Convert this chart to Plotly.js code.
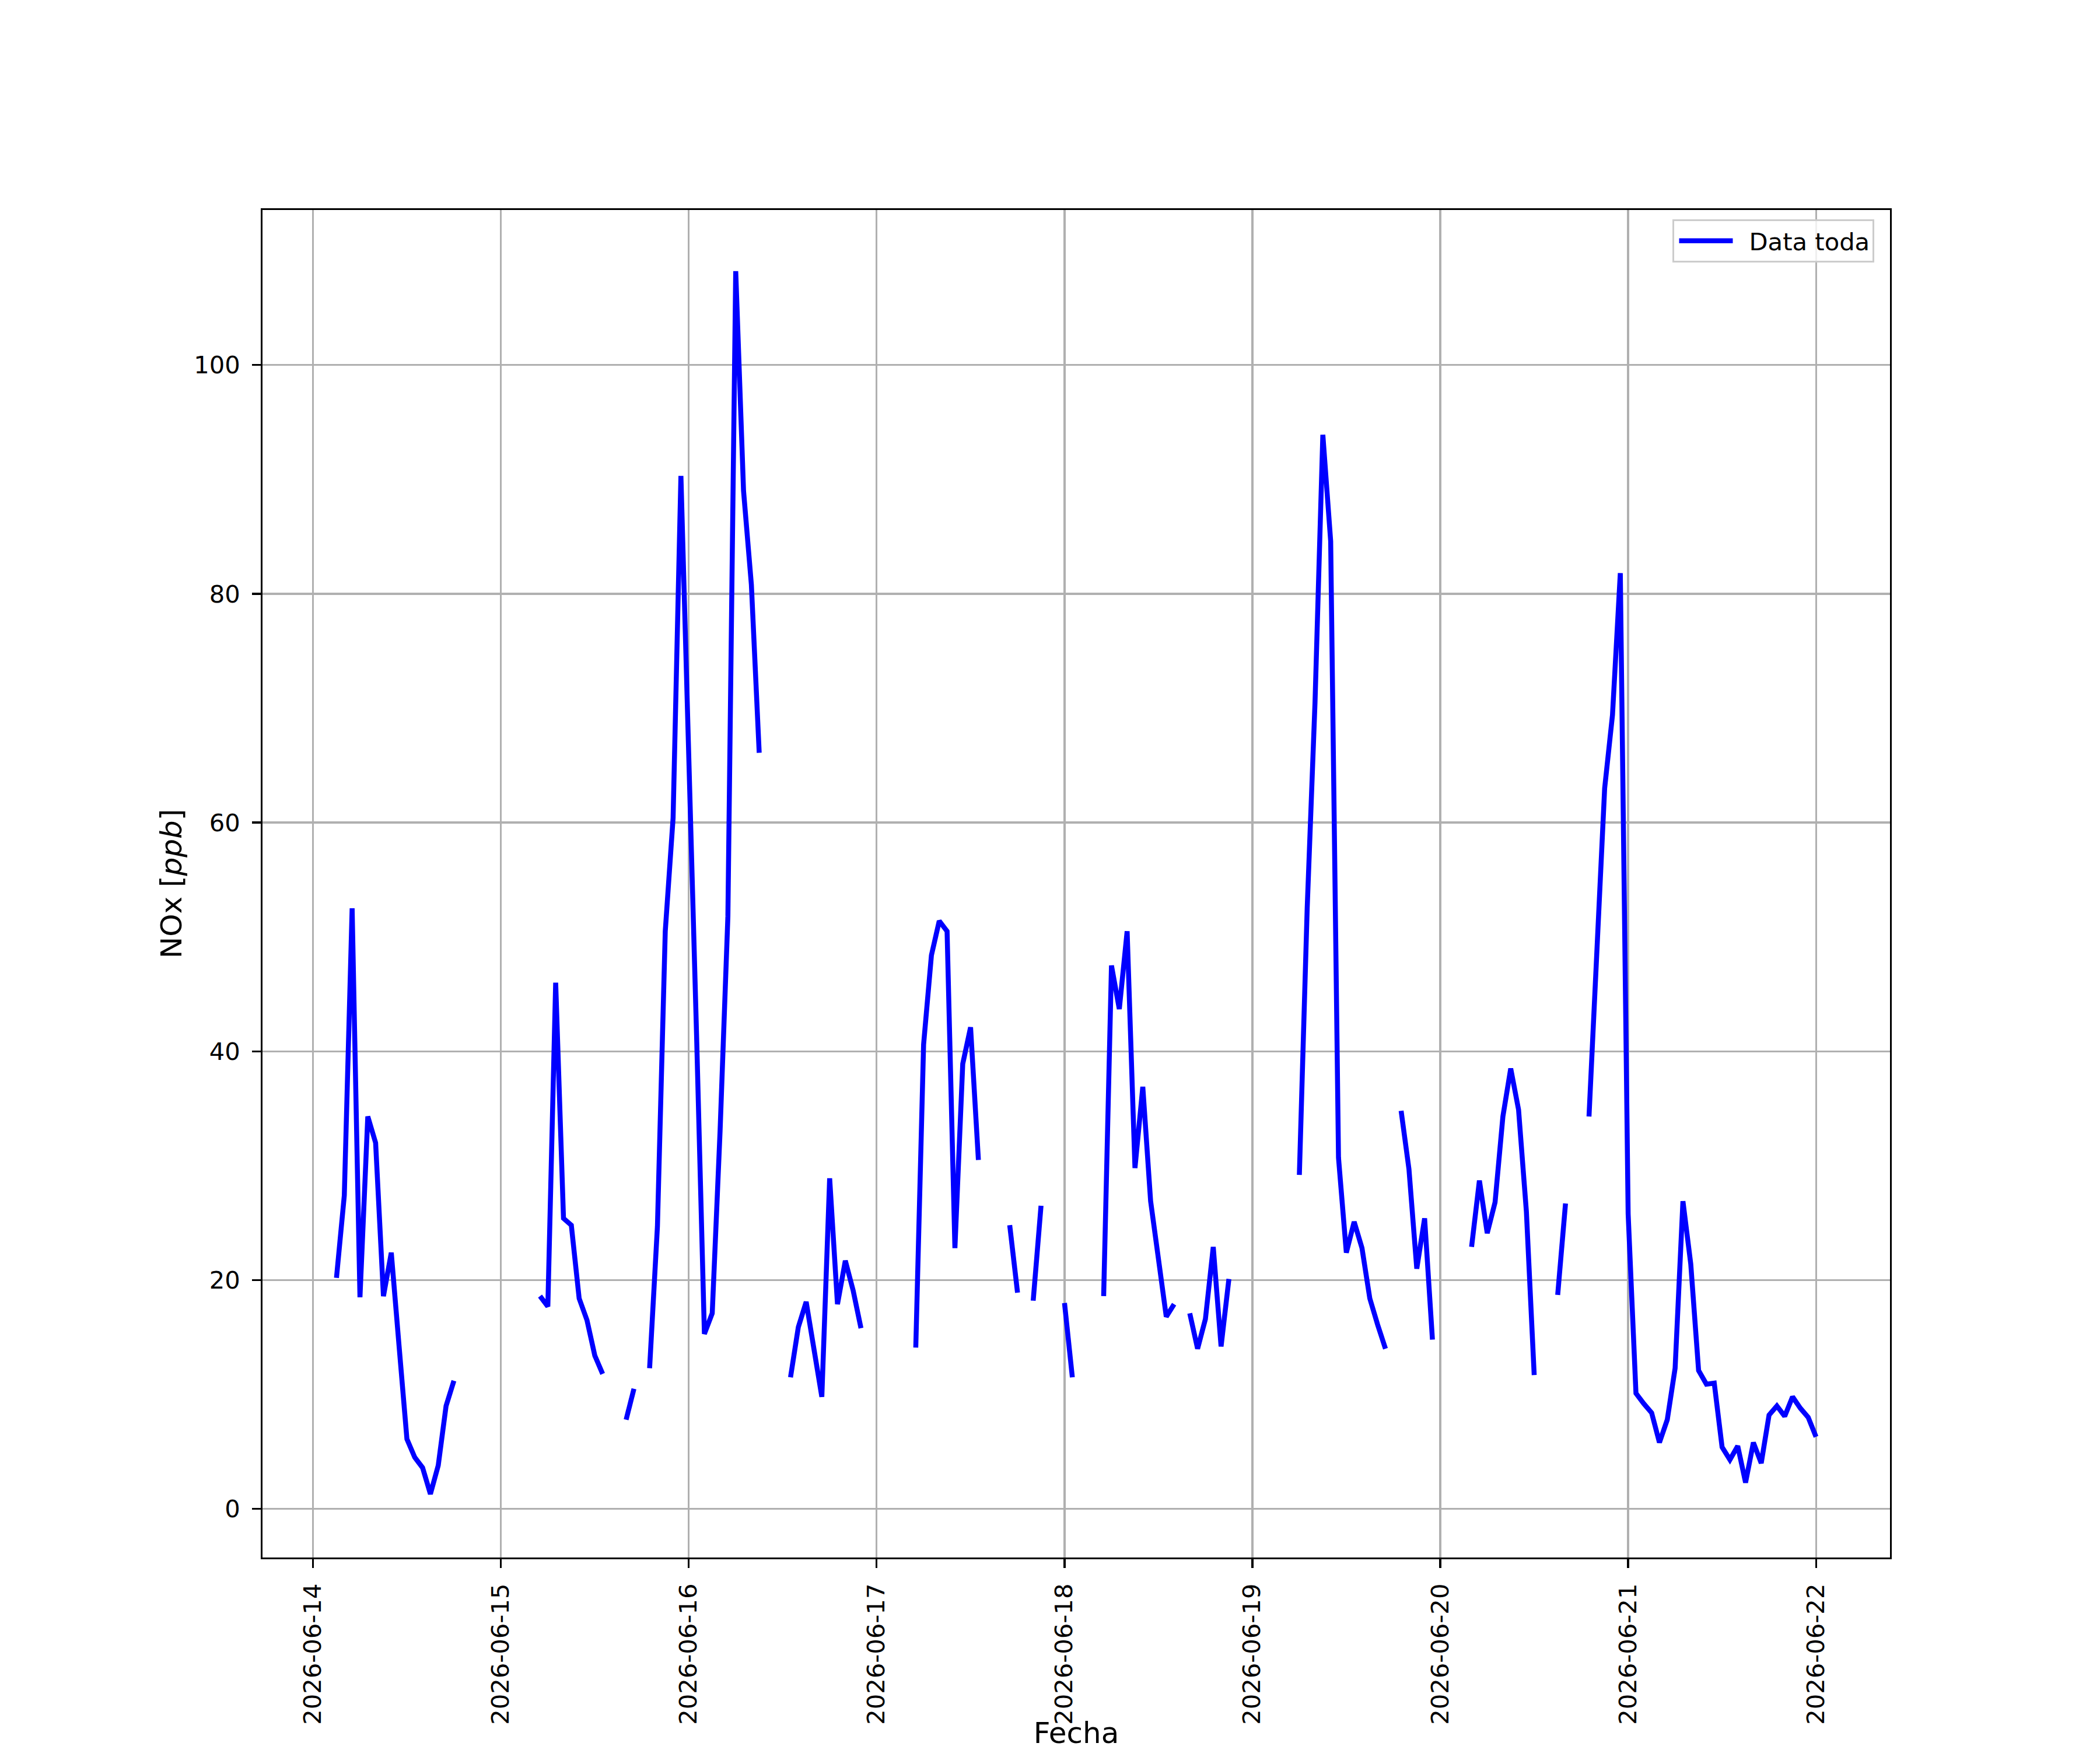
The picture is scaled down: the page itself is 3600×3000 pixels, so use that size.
<!DOCTYPE html>
<html>
<head>
<meta charset="utf-8">
<script src="https://cdn.plot.ly/plotly-3.0.1.min.js"></script>
<style>html,body{margin:0;padding:0;background:#fff;}</style>
</head>
<body>
<div id="chart" style="width:3600px;height:3000px;"></div>
<script>
// Hourly NOx readings (ppb) per day, index = hour of day; null = no data
const days = ['2026-06-14','2026-06-15','2026-06-16','2026-06-17','2026-06-18','2026-06-19','2026-06-20','2026-06-21','2026-06-22'];
const firstHour = 3; // first reading on 2026-06-14 at 03:00
const day14 = [20.2,27.4,52.5,18.5,34.3,32.0,18.6,22.4,14.2,6.1,4.5,3.6,1.3,3.8,9.0,11.2,null,null,null,null,null]; // hours 03..23
const day15 = [null,null,null,null,null,18.6,17.7,46.0,25.4,24.8,18.4,16.5,13.4,11.8,null,null,7.8,10.5,null,12.3,24.7,50.5,60.4,90.3];
const day16 = [67.5,41.4,15.3,17.1,33.0,51.8,108.2,89.0,80.8,66.1,null,null,null,11.5,15.9,18.1,13.9,9.8,28.9,17.9,21.7,19.1,15.8,null];
const day17 = [null,null,null,null,null,14.1,40.6,48.4,51.4,50.5,22.8,38.9,42.1,30.5,null,null,null,24.8,18.9,null,18.2,26.5,null,null];
const day18 = [18.0,11.5,null,null,null,18.6,47.5,43.7,50.5,29.8,36.9,26.9,22.0,16.8,17.9,null,17.1,14.0,16.6,22.9,14.2,20.1,null,null];
const day19 = [null,null,null,null,null,null,29.2,52.5,70.5,93.9,84.6,30.7,22.4,25.1,22.8,18.4,16.1,14.0,null,34.8,29.7,21.0,25.4,14.8];
const day20 = [null,null,null,null,22.9,28.7,24.1,26.8,34.3,38.5,34.9,26.0,11.7,null,null,18.7,26.7,null,null,34.3,49.0,63.0,69.4,81.8];
const day21 = [25.8,10.1,9.2,8.4,5.8,7.8,12.3,26.9,21.4,12.1,10.9,11.0,5.4,4.3,5.5,2.3,5.8,4.0,8.2,9.0,8.1,9.8,8.8,8.0];
const day22 = [6.3]; // hour 00

const seriesName = 'Data toda';
const xTitle = 'Fecha';
const yTitle = 'NOx [<i>ppb</i>]';

// assemble timestamps and values
const perDay = [day14, day15, day16, day17, day18, day19, day20, day21, day22];
const xs = [], ys = [];
perDay.forEach(function (vals, d) {
  const start = d === 0 ? firstHour : 0;
  vals.forEach(function (v, i) {
    const h = start + i;
    xs.push(days[d] + ' ' + String(h).padStart(2, '0') + ':00');
    ys.push(v);
  });
});

const trace = {
  x: xs, y: ys, type: 'scatter', mode: 'lines', name: seriesName,
  connectgaps: false,
  line: {color: '#0000ff', width: 8.5},
  showlegend: true
};

const layout = {
  width: 3600, height: 3000,
  margin: {l: 450, r: 360, t: 360, b: 330, autoexpand: false},
  paper_bgcolor: '#fff', plot_bgcolor: '#fff',
  font: {family: 'DejaVu Sans', size: 41.7, color: '#000'},
  showlegend: true,
  legend: {
    x: 0.9905, y: 0.993, xanchor: 'right', yanchor: 'top',
    bgcolor: 'rgba(255,255,255,0.8)', bordercolor: '#cccccc', borderwidth: 3,
    itemwidth: 118,
    font: {family: 'DejaVu Sans', size: 41.7, color: '#000'}
  },
  xaxis: {
    type: 'date',
    range: ['2026-06-13 17:33', '2026-06-22 09:27'],
    tick0: '2026-06-14', dtick: 86400000,
    tickformat: '%Y-%m-%d', tickangle: -90,
    ticks: 'outside', ticklen: 14.6, tickwidth: 3.3, tickcolor: '#000',
    ticklabelstandoff: 10,
    showgrid: true, gridcolor: '#b0b0b0', gridwidth: 3.3,
    showline: true, mirror: true, linecolor: '#000', linewidth: 3.3,
    zeroline: false,
    tickfont: {family: 'DejaVu Sans', size: 41.7, color: '#000'},
    title: {text: xTitle, font: {family: 'DejaVu Sans', size: 50, color: '#000'}, standoff: 17}
  },
  yaxis: {
    range: [-4.25, 113.55],
    tick0: 0, dtick: 20,
    ticks: 'outside', ticklen: 14.6, tickwidth: 3.3, tickcolor: '#000',
    ticklabelstandoff: 12,
    showgrid: true, gridcolor: '#b0b0b0', gridwidth: 3.3,
    showline: true, mirror: true, linecolor: '#000', linewidth: 3.3,
    zeroline: false,
    tickfont: {family: 'DejaVu Sans', size: 41.7, color: '#000'},
    title: {text: yTitle, font: {family: 'DejaVu Sans', size: 50, color: '#000'}, standoff: 5}
  },
  hovermode: false
};

Plotly.newPlot('chart', [trace], layout, {displayModeBar: false, staticPlot: true}).then(function (gd) {
  // lengthen the legend line sample to match a matplotlib-style handle
  gd.querySelectorAll('.legend .legendlines path').forEach(function (p) {
    p.setAttribute('d', 'M8,0h92');
  });
});
</script>
</body>
</html>
